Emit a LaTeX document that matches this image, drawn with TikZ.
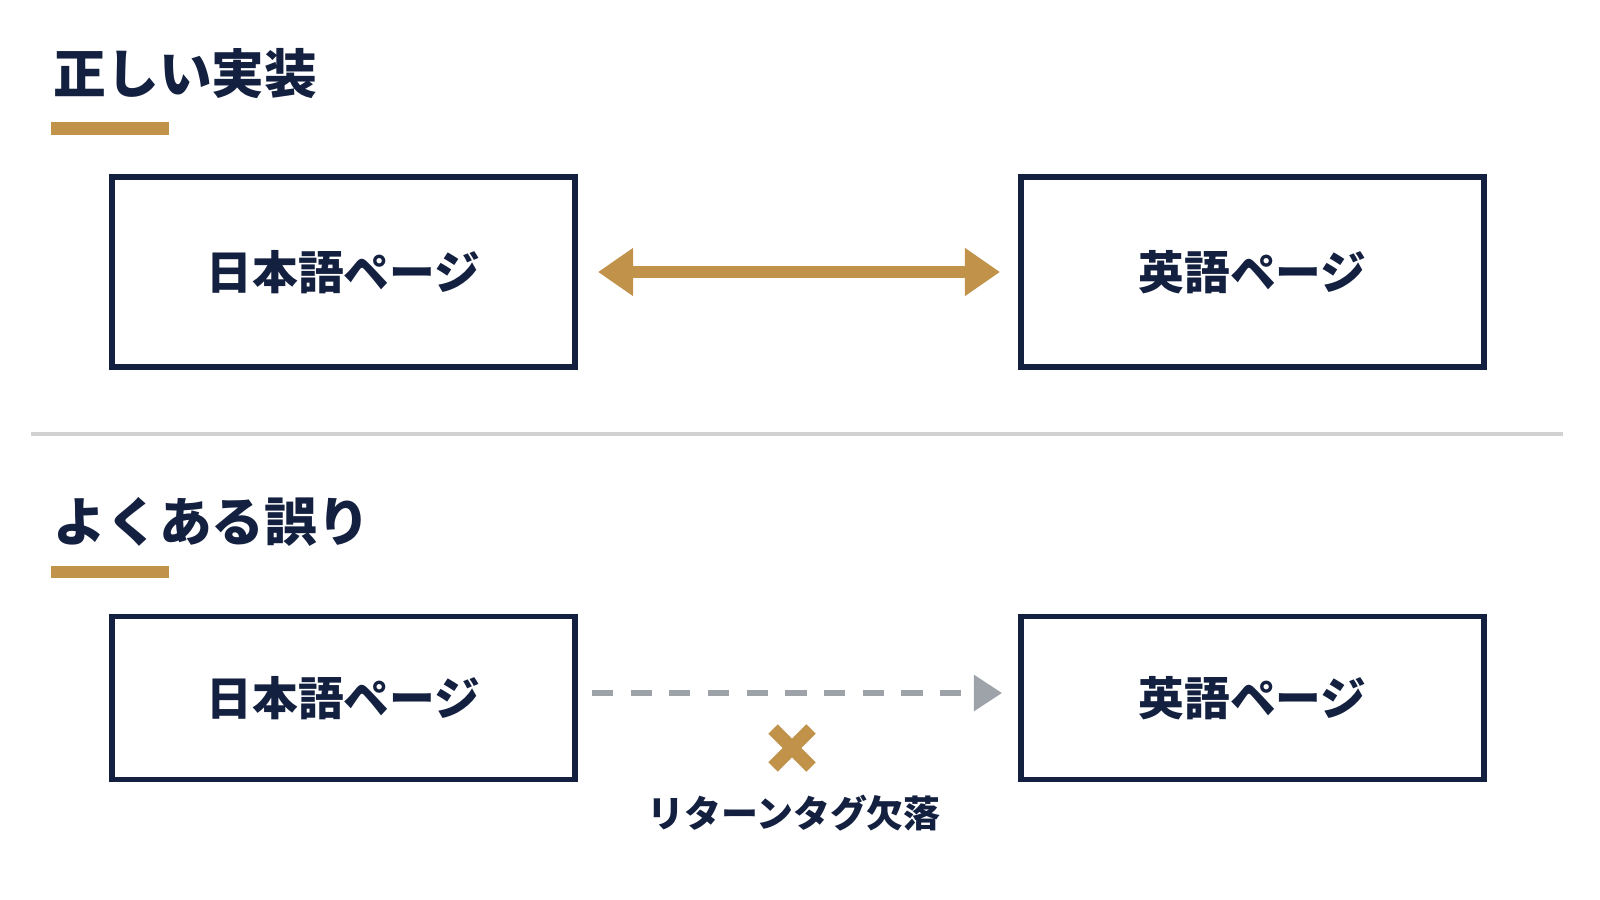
\documentclass[tikz,border=0pt]{standalone}
\usepackage{fontspec}
\newfontfamily\cjk{Noto Sans CJK JP}
\usetikzlibrary{arrows.meta}
\definecolor{navy}{HTML}{14203F}
\definecolor{gold}{HTML}{C0924A}
\definecolor{lgray}{HTML}{9EA3AA}
\begin{document}
\begin{tikzpicture}[x=0.01cm,y=-0.01cm,
  box/.style={draw=navy,line width=1.6pt,minimum width=4.63cm,inner sep=0pt,font=\cjk\bfseries\fontsize{13}{15}\selectfont,text=navy},
  title/.style={anchor=west,font=\cjk\bfseries\fontsize{15}{18}\selectfont,text=navy,inner sep=0pt},
  uline/.style={draw=gold,line width=3.5pt}]
\fill[white] (0,0) rectangle (1600,900);
\node[title] (t1) at (53,74) {正しい実装};
\draw[uline] (51,128.5) -- (169,128.5);
\node[box,minimum height=1.9cm] (j1) at (343.5,272) {日本語ページ};
\node[box,minimum height=1.9cm] (e1) at (1252.5,272) {英語ページ};
\draw[gold,line width=3.5pt,{Triangle[length=10pt,width=13pt]}-{Triangle[length=10pt,width=13pt]}] ([xshift=0.2cm]j1.east) -- ([xshift=-0.18cm]e1.west);
\draw[gray!35,line width=1pt] (31,434) -- (1563,434);
\node[title] (t2) at (53,522) {よくある誤り};
\draw[uline] (51,572) -- (169,572);
\node[box,minimum height=1.63cm] (j2) at (343.5,698) {日本語ページ};
\node[box,minimum height=1.63cm] (e2) at (1252.5,698) {英語ページ};
\coordinate (a) at (592,693);
\coordinate (b) at (1002,693);
\draw[lgray,line width=1.6pt,dash pattern=on 6pt off 5pt,-{Triangle[length=8pt,width=10pt]}] (a) -- (b);
\node (x) at (792,748) {};
\draw[gold,line width=3.8pt] (773,729) -- (811,767) (773,767) -- (811,729);
\node[font=\cjk\bfseries\fontsize{10.5}{12}\selectfont,text=navy] (lab) at (794,813) {リターンタグ欠落};
\end{tikzpicture}
\end{document}
